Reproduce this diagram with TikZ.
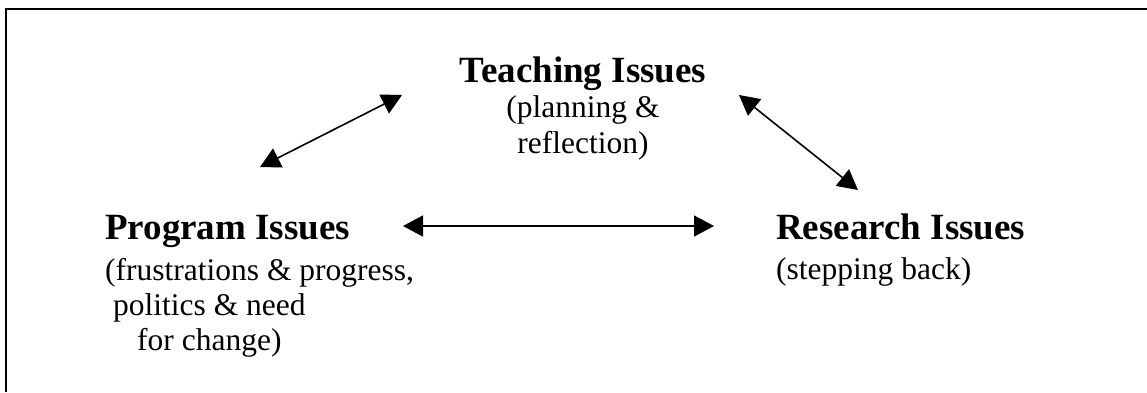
\documentclass[tikz,border=0pt]{standalone}
\usepackage{fontspec}
\setmainfont{Liberation Serif}
\usetikzlibrary{arrows.meta}
\newcommand\titlefont{\fontsize{37}{40}\selectfont\bfseries}
\newcommand\subfont{\fontsize{31.5}{34}\selectfont}
\tikzset{
  ttl/.style={inner sep=0pt, font=\titlefont},
  sub/.style={inner sep=0pt, font=\subfont},
  link/.style={line width=1.6pt, {Triangle[length=20pt,width=21pt]}-{Triangle[length=20pt,width=21pt]}},
  frame/.style={line width=2pt}
}
\begin{document}
\begin{tikzpicture}[x=1pt,y=-1pt]
\useasboundingbox (0,0) rectangle (1147,392);
% frame (open on the right and bottom)
\coordinate (fa) at (6,392);
\coordinate (fb) at (6,9);
\coordinate (fc) at (1147,9);
\draw[frame] (fa) -- (fb) -- (fc);
% Teaching
\node[ttl, anchor=base] (teachT) at (583,82) {Teaching Issues};
\node[sub, anchor=base] (teachA) at (583,117) {(planning \&};
\node[sub, anchor=base] (teachB) at (583,153) {reflection)};
% Program
\node[ttl, anchor=base west] (progT) at (105,239) {Program Issues};
\node[sub, anchor=base west] (progA) at (105,280) {(frustrations \& progress,};
\node[sub, anchor=base west] (progB) at (113,315) {politics \& need};
\node[sub, anchor=base west] (progC) at (137,350) {for change)};
% Research
\node[ttl, anchor=base west] (resT) at (776,239) {Research Issues};
\node[sub, anchor=base west] (resA) at (776,279) {(stepping back)};
% arrow ends
\coordinate (a1) at (260,167);
\coordinate (a2) at (402,95);
\coordinate (b1) at (739,95);
\coordinate (b2) at (858,190);
\coordinate (c1) at (403,226);
\coordinate (c2) at (714,226);
\draw[link] (a1) -- (a2);
\draw[link] (b1) -- (b2);
\draw[link] (c1) -- (c2);
\end{tikzpicture}
\end{document}
